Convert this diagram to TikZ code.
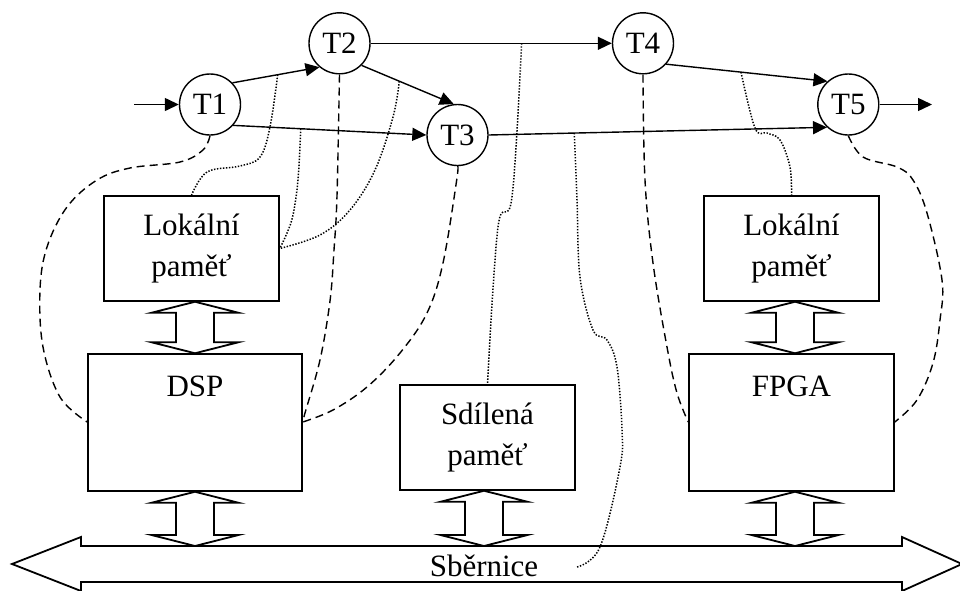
\documentclass[tikz,border=0pt]{standalone}
\usepackage{fontspec}
\setmainfont{Liberation Serif}
\usetikzlibrary{arrows.meta,calc}

% Hollow two-headed block arrow on a vertical axis:
% #1 x of the axis, #2 upper end, #3 lower end
\newcommand{\duplex}[3]{%
  \draw[blk] let \p0=(#1,0), \p1=(#2), \p2=(#3) in
    (\x0,\y1) -- ++(-21.75pt,-5.5pt) -- ++(12.25pt,0pt)
    -- (\x0-9.5pt,\y2+5.5pt) -- ++(-12.25pt,0pt) -- (\x0,\y2)
    -- ++(21.75pt,5.5pt) -- ++(-12.25pt,0pt)
    -- (\x0+9.5pt,\y1-5.5pt) -- ++(12.25pt,0pt) -- cycle;}

\begin{document}
\begin{tikzpicture}[x=0.5pt,y=-0.5pt,
  every node/.style={font=\fontsize{15.5}{20.8}\selectfont},
  task/.style={circle,draw,line width=0.7pt,minimum size=30.5pt,inner sep=0pt},
  unit/.style={rectangle,draw,line width=0.75pt,inner sep=0pt,align=center},
  flow/.style={line width=0.7pt,-{Triangle[length=7pt,width=6.5pt]}},
  map/.style={line width=0.7pt,dash pattern=on 4pt off 2.5pt},
  share/.style={line width=0.75pt,dash pattern=on 0.7pt off 0.8pt},
  blk/.style={line width=0.9pt,fill=white,line join=miter}]

\useasboundingbox (0,0) rectangle (960,590);

% tasks
\node[task] (t1) at (210,104.5) {T1};
\node[task] (t2) at (339.5,43.3) {T2};
\node[task] (t3) at (457.5,135) {T3};
\node[task] (t4) at (643,43.3) {T4};
\node[task] (t5) at (848.3,104.5) {T5};
\coordinate (in) at (134,104.5);
\coordinate (out) at (932,104.5);

% hardware units
\node[unit,minimum width=87.5pt,minimum height=52.5pt] (lok1) at (191.5,248.5) {Lokální\\paměť};
\node[unit,minimum width=107pt,minimum height=68.5pt] (dsp) at (195,422.5) {};
\node (dsplbl) at (195,386.7) {DSP};
\node[unit,minimum width=87.5pt,minimum height=52.5pt] (sdil) at (487.5,437.5) {Sdílená\\paměť};
\node[unit,minimum width=87.5pt,minimum height=52.5pt] (lok2) at (791.5,248.5) {Lokální\\paměť};
\node[unit,minimum width=102.5pt,minimum height=68.5pt] (fpga) at (791.5,422.5) {};
\node (fpgalbl) at (791.5,386.7) {FPGA};

% task graph
\draw[flow] (in) -- (t1.west);
\draw[flow] (t1.44) -- coordinate[pos=0.52] (d1) (t2.230);
\draw[flow] (t1.-42) -- coordinate[pos=0.35] (d2) (t3.180);
\draw[flow] (t2.-45) -- coordinate[pos=0.41] (d3) (t3.97);
\draw[flow] (t2.east) -- coordinate[pos=0.626] (d4) (t4.west);
\draw[flow] (t3.east) -- coordinate[pos=0.253] (d5) (t5.227);
\draw[flow] (t4.-42) -- coordinate[pos=0.464] (d6) (t5.132);
\draw[flow] (t5.east) -- (out);

% bus
\coordinate (bus) at (484,546);
\draw[blk] (12,564) -- (81,537) -- (81,546) -- (902,546) -- (902,537)
  -- (962,564) -- (902,591) -- (902,582) -- (81,582) -- (81,591) -- cycle;
\node (buslbl) at (484,566) {Sběrnice};

% data paths between units
\duplex{195}{lok1.south}{dsp.north}
\duplex{195}{dsp.south}{bus}
\duplex{484}{sdil.south}{bus}
\duplex{795}{lok2.south}{fpga.north}
\duplex{795}{fpga.south}{bus}

% tasks mapped onto processors
\draw[map] plot[smooth,tension=0.6] coordinates {(t1.south) (203,150) (180,162) (130,168) (97,180) (67,207) (47,247) (40,290) (43,347) (60,397) (dsp.west |- 0,422)};
\draw[map] plot[smooth,tension=0.6] coordinates {(t2.south) (337,196) (334,250) (330,301) (320,360) (305,413) (dsp.east |- 0,422)};
\draw[map] plot[smooth,tension=0.6] coordinates {(t3.south) (456.7,180) (443,263) (427,313) (400,353) (367,387) (333,410) (dsp.east |- 0,422)};
\draw[map] plot[smooth,tension=0.6] coordinates {(t4.south) (645,180) (653,263) (667,347) (677,393) (fpga.west |- 0,422)};
\draw[map] plot[smooth,tension=0.6] coordinates {(t5.south) (863,157) (897,167) (913,180) (927,213) (942,280) (940,320) (933,363) (917,400) (fpga.east |- 0,422)};

% data shared through memories
\draw[share] plot[smooth,tension=0.6] coordinates {(d1) (270,127) (260,157) (240,166) (207,172) (lok1.north)};
\draw[share] plot[smooth,tension=0.6] coordinates {(d2) (298,180) (293,215) (287,233) (lok1.east)};
\draw[share] plot[smooth,tension=0.6] coordinates {(d3) (393,117) (375,170) (350,210) (320,235) (lok1.east)};
\draw[share] plot[smooth,tension=0.6] coordinates {(d4) (512,197) (498,227) (sdil.north)};
\draw[share] plot[smooth,tension=0.6] coordinates {(d5) (577,200) (580,277) (593,330) (607,340) (617,367) (622,430) (620,467) (600,547) (577,567)};
\draw[share] plot[smooth,tension=0.6] coordinates {(d6) (755,128) (767,133) (780,140) (790,167) (lok2.north)};
\end{tikzpicture}
\end{document}
